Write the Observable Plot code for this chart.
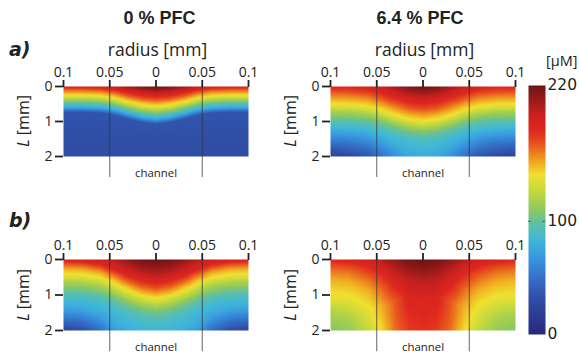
<!DOCTYPE html>
<html><head><meta charset="utf-8">
<script src="https://cdn.jsdelivr.net/npm/d3@7"></script>
<script src="https://cdn.jsdelivr.net/npm/@observablehq/plot@0.6"></script>
<style>
body{margin:0;background:#fff;overflow:hidden}
#wrap{position:relative;width:579px;height:356px;overflow:hidden;background:#fff}
#wrap > svg, #wrap > figure{position:absolute;margin:0}
</style></head><body><div id="wrap"></div>
<script>
// ---- shared axes / scale data ----
const radii = [0, 0.015, 0.03, 0.045, 0.06, 0.08, 0.1];          // |radius| columns (mm), mirrored
const levels = [200, 185, 165, 150, 137, 120, 105, 90, 75, 55, 35]; // iso-concentration levels (µM)
const xTicks = [-0.1, -0.05, 0, 0.05, 0.1];
const xTickLabels = ["0.1", "0.05", "0", "0.05", "0.1"];
const yTicks = [0, 1, 2];
const channelWalls = [-0.05, 0.05];
const colorTicks = [0, 100, 220];
const colorStops = [0, 14, 33, 50, 68, 84, 99, 110, 125, 141, 154, 167, 180, 195, 208, 220];
const colorRange = ["#282878", "#2c3890", "#3050a8", "#3470c8", "#3898e0", "#40b8d8", "#60c0a0", "#8cc860",
                    "#c0d840", "#f0e030", "#f0a020", "#e85a1e", "#e0281e", "#c82020", "#961a1a", "#701414"];

// ---- panel a, 0 % PFC ----
const aLeftTop = [222, 215, 205, 195, 190, 188, 188];
const aLeftBottom = [30, 30, 30, 30, 30, 30, 30];
const aLeftDepths = [
  [0.16, 0.12, 0.05, null, null, null, null],
  [0.26, 0.23, 0.16, 0.08, 0.03, 0.02, 0.02],
  [0.40, 0.37, 0.29, 0.18, 0.12, 0.10, 0.10],
  [0.50, 0.46, 0.38, 0.27, 0.21, 0.19, 0.19],
  [0.59, 0.55, 0.46, 0.35, 0.29, 0.27, 0.27],
  [0.68, 0.64, 0.55, 0.44, 0.38, 0.36, 0.36],
  [0.77, 0.73, 0.63, 0.52, 0.46, 0.44, 0.44],
  [0.85, 0.81, 0.71, 0.60, 0.54, 0.52, 0.52],
  [0.93, 0.89, 0.79, 0.68, 0.62, 0.60, 0.60],
  [1.00, 0.96, 0.86, 0.75, 0.69, 0.67, 0.67],
  [1.07, 1.03, 0.93, 0.82, 0.75, 0.73, 0.73]
];
// ---- panel a, 6.4 % PFC ----
const aRightTop = [222, 216, 205, 195, 188, 184, 183];
const aRightBottom = [78, 75, 65, 50, 35, 25, 22];
const aRightDepths = [
  [0.25, 0.20, 0.07, null, null, null, null],
  [0.45, 0.40, 0.28, 0.14, 0.04, null, null],
  [0.70, 0.65, 0.52, 0.38, 0.26, 0.21, 0.20],
  [0.87, 0.82, 0.70, 0.55, 0.44, 0.39, 0.38],
  [1.02, 0.97, 0.86, 0.71, 0.61, 0.56, 0.55],
  [1.17, 1.12, 1.01, 0.86, 0.76, 0.71, 0.70],
  [1.32, 1.28, 1.17, 1.03, 0.93, 0.89, 0.88],
  [1.55, 1.50, 1.38, 1.24, 1.14, 1.09, 1.08],
  [null, null, 1.75, 1.52, 1.38, 1.31, 1.30],
  [null, null, null, 1.90, 1.68, 1.57, 1.55],
  [null, null, null, null, null, 1.90, 1.82]
];
// ---- panel b, 0 % PFC ----
const bLeftTop = [222, 218, 210, 200, 192, 188, 188];
const bLeftBottom = [85, 83, 78, 68, 50, 30, 22];
const bLeftDepths = [
  [0.40, 0.34, 0.18, null, null, null, null],
  [0.62, 0.56, 0.43, 0.27, 0.12, 0.05, 0.03],
  [0.85, 0.78, 0.63, 0.43, 0.26, 0.17, 0.15],
  [1.00, 0.93, 0.77, 0.57, 0.39, 0.30, 0.28],
  [1.13, 1.06, 0.91, 0.72, 0.55, 0.47, 0.45],
  [1.30, 1.23, 1.08, 0.89, 0.72, 0.64, 0.62],
  [1.48, 1.41, 1.27, 1.08, 0.92, 0.84, 0.82],
  [1.75, 1.68, 1.53, 1.33, 1.16, 1.07, 1.05],
  [null, null, null, 1.85, 1.55, 1.40, 1.35],
  [null, null, null, null, 1.90, 1.68, 1.62],
  [null, null, null, null, null, 1.95, 1.88]
];
// ---- panel b, 6.4 % PFC ----
const bRightTop = [222, 218, 210, 200, 192, 186, 182];
const bRightBottom = [178, 175, 163, 142, 125, 113, 108];
const bRightDepths = [
  [0.55, 0.48, 0.25, null, null, null, null],
  [1.10, 1.00, 0.65, 0.30, 0.12, 0.02, null],
  [null, null, 1.75, 0.80, 0.50, 0.30, 0.25],
  [null, null, null, 1.35, 0.90, 0.66, 0.60],
  [null, null, null, null, 1.45, 1.15, 1.10],
  [null, null, null, null, null, 1.60, 1.50],
  [null, null, null, null, null, null, null],
  [null, null, null, null, null, null, null],
  [null, null, null, null, null, null, null],
  [null, null, null, null, null, null, null],
  [null, null, null, null, null, null, null]
];

function samples(top, bottom, depths) {
  const pts = [];
  radii.forEach((r, j) => {
    for (const s of (r === 0 ? [1] : [-1, 1])) {
      pts.push({r: s * r, L: 0, v: top[j]});
      pts.push({r: s * r, L: 2, v: bottom[j]});
      depths.forEach((row, i) => { if (row[j] != null) pts.push({r: s * r, L: row[j], v: levels[i]}); });
    }
  });
  return pts;
}

const colorScale = {type: "linear", domain: colorStops, range: colorRange, interpolate: "rgb"};
const wrap = document.getElementById("wrap");

function panel(data, left, top, plotH) {
  const chart = Plot.plot({
    width: 260, height: 86 + plotH + 29,
    marginLeft: 63, marginRight: 12, marginTop: 86, marginBottom: 29,
    x: {domain: [-0.1, 0.1], axis: null},
    y: {domain: [0, 2], reverse: true, axis: null},
    color: colorScale,
    style: {fontFamily: "Open Sans", fontSize: "14px", color: "#222", background: "transparent", overflow: "visible"},
    marks: [
      Plot.raster(data, {x: "r", y: "L", fill: "v", interpolate: "barycentric", x1: -0.1, x2: 0.1, y1: 0, y2: 2}),
      Plot.ruleX(channelWalls, {y1: 0, y2: 2.6, stroke: "#333", strokeWidth: 1, strokeOpacity: 0.75}),
      Plot.text(["channel"], {x: 0, y: 2, dy: 17, text: d => d, fontSize: 11.4, fill: "#222"}),
      Plot.axisX(xTicks, {anchor: "top", tickFormat: d => xTickLabels[xTicks.indexOf(d)], tickSize: 7, tickPadding: 3, strokeWidth: 1.8, fontSize: 14, label: null}),
      Plot.axisY(yTicks, {anchor: "left", tickFormat: d => String(d), tickSize: 8, tickPadding: 3, strokeWidth: 1.8, fontSize: 14, label: null})
    ]
  });
  chart.style.left = left + "px";
  chart.style.top = top + "px";
  wrap.appendChild(chart);
}

panel(samples(aLeftTop, aLeftBottom, aLeftDepths), 0, 0, 70);
panel(samples(aRightTop, aRightBottom, aRightDepths), 267, 0, 70);
panel(samples(bLeftTop, bLeftBottom, bLeftDepths), 0, 173, 71);
panel(samples(bRightTop, bRightBottom, bRightDepths), 267, 173, 71);

// colour bar
const bar = Plot.plot({
  width: 90, height: 300,
  marginLeft: 18, marginRight: 55, marginTop: 35, marginBottom: 16,
  x: {domain: [0, 1], axis: null},
  y: {domain: [0, 220], axis: null},
  color: colorScale,
  style: {fontFamily: "DejaVu Sans", color: "#222", background: "transparent", overflow: "visible"},
  marks: [
    Plot.raster({fill: (x, y) => y, x1: 0, x2: 1, y1: 0, y2: 220}),
    Plot.ruleY([100], {x1: 0, x2: 0.15, stroke: "#555"}),
    Plot.ruleY([100], {x1: 0.85, x2: 1, stroke: "#555"}),
    Plot.axisY(colorTicks, {anchor: "right", tickSize: 0, tickPadding: 2, fontSize: 15.5, label: null})
  ]
});
bar.style.left = "510px";
bar.style.top = "50px";
wrap.appendChild(bar);

// text overlay
const ns = "http://www.w3.org/2000/svg";
const ov = document.createElementNS(ns, "svg");
ov.setAttribute("width", 579); ov.setAttribute("height", 356);
ov.style.left = "0px"; ov.style.top = "0px"; ov.style.pointerEvents = "none";
const labels = [
  {t: "0 % PFC", x: 159.5, y: 24, a: "middle", f: "bold 18px 'Liberation Sans', Arial, sans-serif"},
  {t: "6.4 % PFC", x: 420, y: 24, a: "middle", f: "bold 18px 'Liberation Sans', Arial, sans-serif"},
  {t: "a)", x: 9, y: 56, a: "start", f: "italic bold 19px 'DejaVu Sans', sans-serif"},
  {t: "b)", x: 9, y: 227, a: "start", f: "italic bold 19px 'DejaVu Sans', sans-serif"},
  {t: "radius [mm]", x: 157.5, y: 56, a: "middle", f: "17.5px 'Open Sans', sans-serif"},
  {t: "radius [mm]", x: 424.5, y: 56, a: "middle", f: "17.5px 'Open Sans', sans-serif"},
  {t: "[µM]", x: 546, y: 66, a: "start", f: "14.5px 'Open Sans', sans-serif"}
];
for (const l of labels) {
  const el = document.createElementNS(ns, "text");
  el.setAttribute("x", l.x); el.setAttribute("y", l.y);
  el.setAttribute("text-anchor", l.a); el.setAttribute("fill", "#222");
  el.style.font = l.f;
  el.textContent = l.t;
  ov.appendChild(el);
}
const yLabels = [{x: 29, y: 121}, {x: 296, y: 121}, {x: 29, y: 295}, {x: 296, y: 295}];
for (const p of yLabels) {
  const el = document.createElementNS(ns, "text");
  el.setAttribute("transform", `translate(${p.x},${p.y}) rotate(-90)`);
  el.setAttribute("text-anchor", "middle"); el.setAttribute("fill", "#222");
  el.style.font = "16px 'Open Sans', sans-serif";
  const t1 = document.createElementNS(ns, "tspan"); t1.setAttribute("font-style", "italic"); t1.textContent = "L";
  const t2 = document.createElementNS(ns, "tspan"); t2.textContent = " [mm]";
  el.appendChild(t1); el.appendChild(t2);
  ov.appendChild(el);
}
wrap.appendChild(ov);
</script></body></html>
